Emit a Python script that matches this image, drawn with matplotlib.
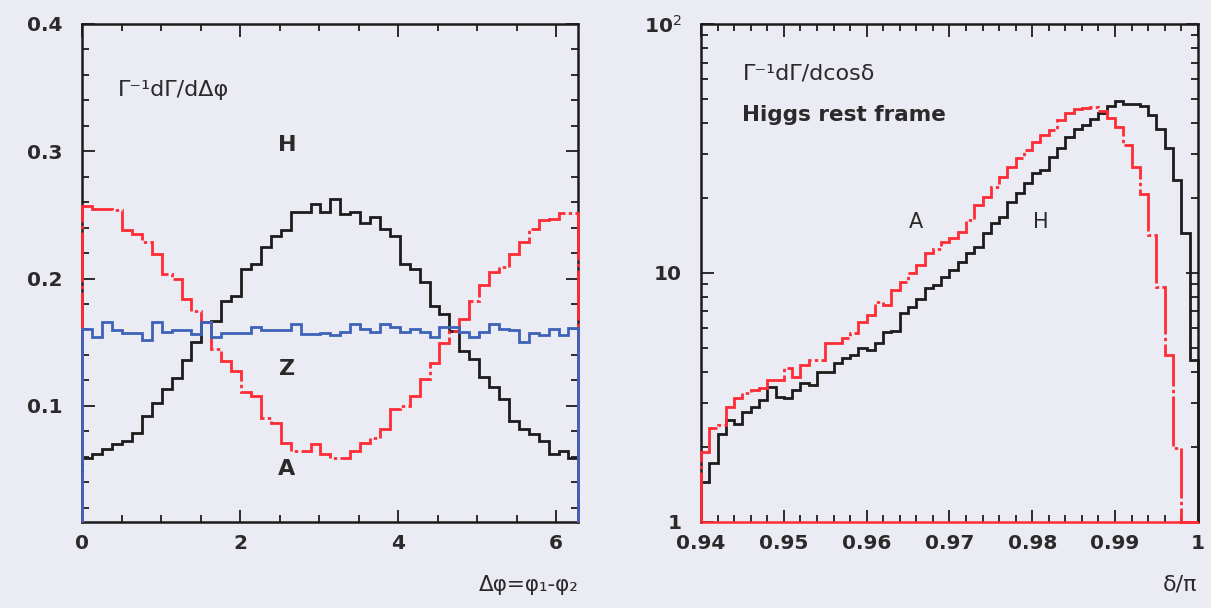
import numpy as np
import matplotlib
matplotlib.use("Agg")
import matplotlib.pyplot as plt
from matplotlib.ticker import MultipleLocator, FixedLocator, FixedFormatter, LogLocator, NullFormatter

# ---- data: left panel, dGamma/dDeltaphi (50 bins over 0..2pi)
phi_edges = np.linspace(0, 2 * np.pi, 51)
h_phi = [0.0593, 0.0619, 0.0659, 0.0698, 0.0724, 0.0790, 0.0921, 0.1026, 0.1131, 0.1218,
         0.1362, 0.1498, 0.1656, 0.1669, 0.1827, 0.1866, 0.2076, 0.2116, 0.2246, 0.2331,
         0.2378, 0.2522, 0.2522, 0.2583, 0.2522, 0.2628, 0.2510, 0.2523, 0.2436, 0.2483,
         0.2392, 0.2331, 0.2116, 0.2077, 0.1972, 0.1787, 0.1722, 0.1590, 0.1433, 0.1367,
         0.1223, 0.1144, 0.1052, 0.0882, 0.0816, 0.0777, 0.0724, 0.0624, 0.0645, 0.0593]
a_phi = [0.2567, 0.2550, 0.2550, 0.2535, 0.2378, 0.2350, 0.2286, 0.2195, 0.2037, 0.1998,
         0.1840, 0.1748, 0.1660, 0.1446, 0.1354, 0.1275, 0.1105, 0.1079, 0.0908, 0.0868,
         0.0711, 0.0645, 0.0645, 0.0698, 0.0619, 0.0593, 0.0593, 0.0645, 0.0711, 0.0750,
         0.0816, 0.0973, 0.1000, 0.1079, 0.1210, 0.1340, 0.1490, 0.1590, 0.1682, 0.1827,
         0.1950, 0.2050, 0.2090, 0.2195, 0.2287, 0.2392, 0.2457, 0.2470, 0.2515, 0.2515]
z_phi = [0.1600, 0.1537, 0.1661, 0.1595, 0.1576, 0.1576, 0.1516, 0.1661, 0.1580, 0.1595,
         0.1595, 0.1568, 0.1661, 0.1537, 0.1576, 0.1576, 0.1576, 0.1621, 0.1595, 0.1595,
         0.1595, 0.1642, 0.1568, 0.1568, 0.1576, 0.1555, 0.1580, 0.1640, 0.1600, 0.1580,
         0.1640, 0.1620, 0.1580, 0.1600, 0.1580, 0.1540, 0.1620, 0.1620, 0.1580, 0.1540,
         0.1580, 0.1640, 0.1600, 0.1595, 0.1500, 0.1570, 0.1555, 0.1600, 0.1555, 0.1615]

# ---- data: right panel, dGamma/dcos(delta) vs delta/pi (60 bins over 0.94..1)
d_edges = np.linspace(0.94, 1.0, 61)
h_cos = [1.445, 1.714, 2.26, 2.56, 2.48, 2.77, 2.90, 3.08, 3.49, 3.18,
         3.13, 3.38, 3.62, 3.55, 4.00, 4.00, 4.33, 4.53, 4.67, 4.97,
         4.90, 5.20, 5.79, 5.86, 6.87, 7.27, 7.85, 8.65, 8.93, 9.60,
         10.26, 11.08, 11.98, 12.74, 14.42, 15.82, 16.83, 19.33, 20.86, 22.9,
         25.1, 25.9, 29.3, 31.6, 35.2, 37.7, 39.3, 41.4, 43.8, 46.6,
         49.2, 47.7, 47.7, 46.6, 43.0, 37.7, 31.6, 23.7, 14.42, 4.46]
a_cos = [1.91, 2.37, 2.45, 2.90, 3.13, 3.28, 3.38, 3.43, 3.71, 3.71,
         4.13, 3.82, 4.26, 4.46, 4.46, 5.21, 5.24, 5.46, 5.71, 6.36,
         6.77, 7.66, 7.41, 8.52, 9.20, 9.95, 10.75, 11.97, 12.5, 13.3,
         13.8, 14.6, 16.3, 18.7, 20.2, 22.2, 24.3, 26.7, 28.8, 31.2,
         33.7, 35.8, 37.5, 41.1, 43.7, 45.5, 45.9, 46.2, 44.8, 42.0,
         38.5, 32.5, 26.7, 20.8, 14.2, 8.8, 4.66, 1.97, 0.0, 0.0]

BG = "#eaebf3"
BLACK = "#1c1c1c"
RED = "#ff2b35"
BLUE = "#3d63b8"
TXT = "#2a2a2a"
dashdot = (0, (18, 1.2, 1.2, 1.2))

plt.rcParams["font.family"] = ["DejaVu Sans"]

fig = plt.figure(figsize=(12.11, 6.08), dpi=100, facecolor=BG)
ax1 = fig.add_axes([0.068, 0.142, 0.4096, 0.8186], facecolor=BG)
ax2 = fig.add_axes([0.5789, 0.142, 0.4102, 0.8186], facecolor=BG)


def style(ax):
    for s in ax.spines.values():
        s.set_linewidth(1.8)
        s.set_color(BLACK)
    ax.tick_params(which="both", direction="in", top=True, right=True,
                   colors=BLACK, width=1.3)
    ax.tick_params(which="major", length=9, labelsize=14.5, labelcolor=TXT)
    ax.tick_params(which="minor", length=5)
    for lab in ax.get_xticklabels() + ax.get_yticklabels():
        lab.set_fontweight("bold")


# ---- left panel
ylo = 0.009
ax1.stairs(h_phi, phi_edges, baseline=ylo, color=BLACK, lw=2.0, zorder=3, clip_on=False)
ax1.stairs(a_phi, phi_edges, baseline=ylo, color=RED, lw=2.0, linestyle=dashdot,
           zorder=4, clip_on=False)
ax1.stairs(z_phi, phi_edges, baseline=ylo, color=BLUE, lw=2.0, zorder=5, clip_on=False)
ax1.set_xlim(0, 2 * np.pi)
ax1.set_ylim(ylo, 0.4)
ax1.xaxis.set_major_locator(FixedLocator([0, 2, 4, 6]))
ax1.xaxis.set_minor_locator(MultipleLocator(0.5))
ax1.yaxis.set_major_locator(FixedLocator([0.1, 0.2, 0.3, 0.4]))
ax1.yaxis.set_major_formatter(FixedFormatter(["0.1", "0.2", "0.3", "0.4"]))
ax1.yaxis.set_minor_locator(MultipleLocator(0.02))
style(ax1)
ax1.tick_params(axis="x", pad=9)
ax1.tick_params(axis="y", pad=14)

ax1.text(0.45, 0.348, "Γ⁻¹dΓ/dΔφ", fontsize=16, color=TXT, va="center")
ax1.text(2.59, 0.305, "H", fontsize=16, fontweight="bold", color=TXT, ha="center", va="center")
ax1.text(2.59, 0.129, "Z", fontsize=16, fontweight="bold", color=TXT, ha="center", va="center")
ax1.text(2.59, 0.050, "A", fontsize=16, fontweight="bold", color=TXT, ha="center", va="center")
fig.text(0.4776, 0.038, "Δφ=φ₁-φ₂", fontsize=15.5, color=TXT, ha="right", va="center")

# ---- right panel
ax2.stairs(h_cos, d_edges, baseline=1, color=BLACK, lw=2.0, zorder=3, clip_on=False)
ax2.stairs(np.maximum(a_cos, 1), d_edges, baseline=1, color=RED, lw=2.0,
           linestyle=dashdot, zorder=4, clip_on=False)
ax2.set_yscale("log")
ax2.set_xlim(0.94, 1.0)
ax2.set_ylim(1, 100)
ax2.xaxis.set_major_locator(FixedLocator([0.94, 0.95, 0.96, 0.97, 0.98, 0.99, 1.0]))
ax2.xaxis.set_major_formatter(FixedFormatter(["0.94", "0.95", "0.96", "0.97", "0.98", "0.99", "1"]))
ax2.xaxis.set_minor_locator(MultipleLocator(0.002))
ax2.yaxis.set_major_locator(FixedLocator([1, 10, 100]))
ax2.yaxis.set_major_formatter(FixedFormatter(["1", "10", "10$^{2}$"]))
ax2.yaxis.set_minor_locator(LogLocator(base=10, subs=np.arange(2, 10)))
ax2.yaxis.set_minor_formatter(NullFormatter())
style(ax2)
ax2.spines["bottom"].set_color(RED)
ax2.tick_params(axis="x", pad=9)
ax2.tick_params(axis="y", pad=14)

ax2.text(0.945, 63.5, "Γ⁻¹dΓ/dcosδ", fontsize=16, color=TXT, va="center")
ax2.text(0.945, 43, "Higgs rest frame", fontsize=15.5, fontweight="bold", color=TXT, va="center")
ax2.text(0.9659, 16, "A", fontsize=15, color=TXT, ha="center", va="center")
ax2.text(0.9810, 16, "H", fontsize=15, color=TXT, ha="center", va="center")
fig.text(0.9885, 0.038, "δ/π", fontsize=16, color=TXT, ha="right", va="center")

fig.savefig("out.png", dpi=100, facecolor=BG)
